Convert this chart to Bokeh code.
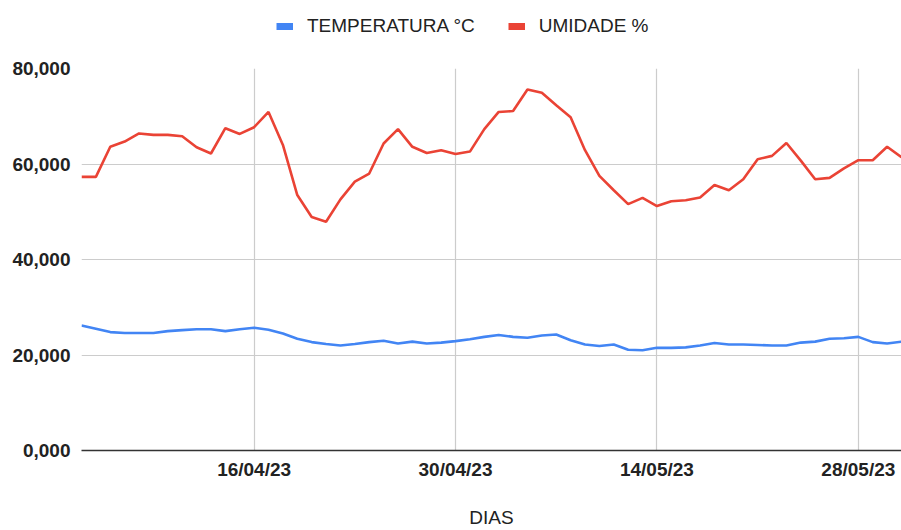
import pandas as pd
from bokeh.plotting import figure
from bokeh.layouts import column
from bokeh.models import (ColumnDataSource, Range1d, FixedTicker, CustomJSTickFormatter,
                          Legend, LegendItem, DatetimeTickFormatter)
from bokeh.embed import file_html
from bokeh.resources import INLINE

# ---------------- data ----------------
START_DATE = "2023-04-04"
TEMPERATURA = [26.2, 25.5, 24.8, 24.6, 24.6, 24.6, 25.0, 25.2, 25.4, 25.4,
               25.0, 25.4, 25.7, 25.3, 24.5, 23.4, 22.7, 22.3, 22.0, 22.3,
               22.7, 23.0, 22.4, 22.8, 22.4, 22.6, 22.9, 23.3, 23.8, 24.2,
               23.8, 23.6, 24.1, 24.3, 23.1, 22.2, 21.9, 22.2, 21.1, 21.0,
               21.5, 21.5, 21.6, 22.0, 22.5, 22.2, 22.2, 22.1, 22.0, 22.0,
               22.6, 22.8, 23.4, 23.5, 23.8, 22.7, 22.4, 22.8]
UMIDADE = [57.3, 57.3, 63.6, 64.7, 66.4, 66.1, 66.1, 65.8, 63.5, 62.2,
           67.5, 66.3, 67.7, 70.9, 64.0, 53.5, 48.9, 47.9, 52.6, 56.3,
           58.0, 64.3, 67.3, 63.6, 62.3, 62.9, 62.1, 62.6, 67.3, 70.9,
           71.1, 75.6, 74.9, 72.3, 69.8, 62.9, 57.5, 54.5, 51.6, 52.9,
           51.2, 52.2, 52.4, 53.0, 55.6, 54.5, 56.8, 61.0, 61.7, 64.4,
           60.7, 56.8, 57.1, 59.1, 60.8, 60.8, 63.6, 61.4]
DIAS = pd.date_range(START_DATE, periods=len(UMIDADE), freq="D")
X_TICK_DATES = ["2023-04-16", "2023-04-30", "2023-05-14", "2023-05-28"]
Y_TICKS = [0, 20, 40, 60, 80]
SERIES_NAMES = ["TEMPERATURA °C", "UMIDADE %"]
COLORS = ["#4285F4", "#EA4335"]

FONT = "Liberation Sans"
FS = "19px"
TXT = "#222222"

# ---------------- legend strip ----------------
LEG_H = 48
leg = figure(width=901, height=LEG_H, output_backend="svg", toolbar_location=None,
             x_range=Range1d(0, 1), y_range=Range1d(0, 1),
             x_axis_location=None, y_axis_location=None,
             min_border=0, min_border_left=0, min_border_right=0,
             min_border_top=0, min_border_bottom=0)
leg.xgrid.visible = False
leg.ygrid.visible = False
leg.outline_line_color = None
nodata = ColumnDataSource(dict(x=[float("nan")], y=[float("nan")]))
lt = leg.line("x", "y", source=nodata, color=COLORS[0], line_width=7)
lu = leg.line("x", "y", source=nodata, color=COLORS[1], line_width=7)
legend = Legend(items=[LegendItem(label=SERIES_NAMES[0], renderers=[lt]),
                       LegendItem(label=SERIES_NAMES[1], renderers=[lu])],
                orientation="horizontal", location=(195, 11),
                padding=0, margin=0, spacing=33, label_standoff=14,
                glyph_width=17, glyph_height=20,
                label_text_font=FONT, label_text_font_size=FS,
                label_text_color=TXT,
                border_line_color=None, background_fill_alpha=0)
leg.add_layout(legend, "center")

# ---------------- main chart ----------------
src = ColumnDataSource(dict(x=DIAS, t=TEMPERATURA, u=UMIDADE))

p = figure(width=901, height=530 - LEG_H, output_backend="svg", toolbar_location=None,
           x_axis_type="datetime",
           x_range=Range1d(DIAS[0], DIAS[-1]), y_range=Range1d(0, 80),
           min_border_left=81, min_border_right=0, min_border_top=68 - LEG_H,
           min_border_bottom=80)
p.outline_line_color = None

p.line("x", "t", source=src, color=COLORS[0], line_width=2.6)
p.line("x", "u", source=src, color=COLORS[1], line_width=2.6)

tick_ms = [pd.Timestamp(d).value // 10**6 for d in X_TICK_DATES]
xa = p.xaxis[0]
xa.ticker = FixedTicker(ticks=tick_ms)
xa.formatter = DatetimeTickFormatter(days="%d/%m/%y", months="%d/%m/%y", years="%d/%m/%y")
xa.axis_label = "DIAS"
xa.axis_label_text_font = FONT
xa.axis_label_text_font_size = FS
xa.axis_label_text_font_style = "normal"
xa.axis_label_text_color = TXT
xa.axis_label_standoff = 24
xa.major_label_text_font = FONT
xa.major_label_text_font_size = FS
xa.major_label_text_font_style = "bold"
xa.major_label_text_color = TXT
xa.major_label_standoff = 8
xa.major_tick_out = 0
xa.major_tick_in = 0
xa.major_tick_line_color = None
xa.minor_tick_line_color = None
xa.axis_line_color = "#333333"
xa.axis_line_width = 1.5

ya = p.yaxis[0]
ya.ticker = FixedTicker(ticks=Y_TICKS)
ya.formatter = CustomJSTickFormatter(code="return tick.toFixed(3).replace('.', ',');")
ya.major_label_text_font = FONT
ya.major_label_text_font_size = FS
ya.major_label_text_font_style = "bold"
ya.major_label_text_color = TXT
ya.major_label_standoff = 11
ya.major_tick_out = 0
ya.major_tick_in = 0
ya.major_tick_line_color = None
ya.minor_tick_line_color = None
ya.axis_line_color = None

p.xgrid.ticker = FixedTicker(ticks=tick_ms)
p.ygrid.ticker = FixedTicker(ticks=Y_TICKS)
p.xgrid.grid_line_color = "#cccccc"
p.ygrid.grid_line_color = "#cccccc"
p.xgrid.grid_line_width = 1.2
p.ygrid.grid_line_width = 1.2

layout = column(leg, p, spacing=0)
open("out.html", "w").write(file_html(layout, INLINE))
